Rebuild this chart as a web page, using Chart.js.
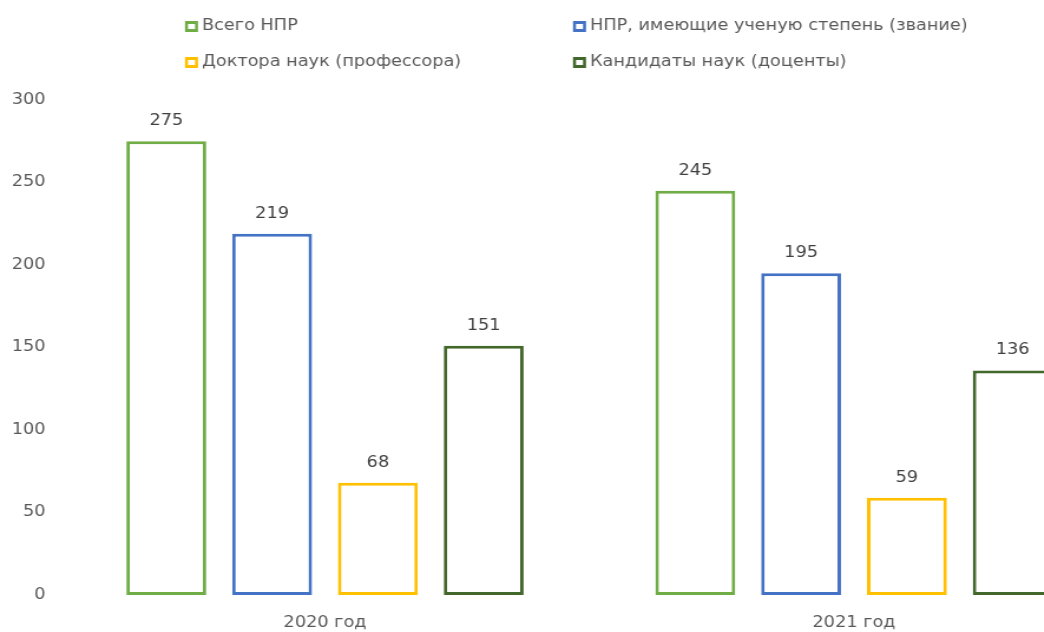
<!DOCTYPE html>
<html>
<head>
<meta charset="utf-8">
<script src="https://cdn.jsdelivr.net/npm/chart.js@4.4.1/dist/chart.umd.min.js"></script>
<style>
  html, body { margin: 0; padding: 0; background: #ffffff; overflow: hidden; }
  #wrap { position: relative; width: 1130px; height: 632px; }
</style>
</head>
<body>
<div id="wrap"><canvas id="c" width="958" height="632" style="display:block;width:1130px;height:632px;"></canvas></div>
<script>
const categories = ['2020 год', '2021 год'];
const seriesNames = [
  'Всего НПР',
  'НПР, имеющие ученую степень (звание)',
  'Доктора наук (профессора)',
  'Кандидаты наук (доценты)'
];
const totalNPR = [275, 245];
const withDegree = [219, 195];
const doctors = [68, 59];
const candidates = [151, 136];
const yTicks = [0, 50, 100, 150, 200, 250, 300];

const colors = ['#70AD47', '#4472C4', '#FFC000', '#43682B'];
const FONT = 'DejaVu Sans';
const S = 1130 / 958; // horizontal stretch applied by CSS

const seriesValues = [totalNPR, withDegree, doctors, candidates];

const valueLabels = {
  id: 'valueLabels',
  afterDatasetsDraw(chart) {
    const ctx = chart.ctx;
    ctx.save();
    ctx.font = '15px "' + FONT + '"';
    ctx.fillStyle = '#404040';
    ctx.textAlign = 'center';
    ctx.textBaseline = 'middle';
    chart.data.datasets.forEach((ds, i) => {
      const meta = chart.getDatasetMeta(i);
      meta.data.forEach((bar, j) => {
        ctx.fillText(String(ds.data[j]), bar.x, bar.y - 20);
      });
    });
    ctx.restore();
  }
};

const legendPos = [
  { x: 185 / S, y: 26.5 },
  { x: 573 / S, y: 26.5 },
  { x: 185 / S, y: 62.5 },
  { x: 573 / S, y: 62.5 }
];
const customLegend = {
  id: 'customLegend',
  afterDraw(chart) {
    const ctx = chart.ctx;
    ctx.save();
    ctx.font = '15px "' + FONT + '"';
    ctx.textBaseline = 'middle';
    ctx.textAlign = 'left';
    const bw = 13 / S;
    const bh = 11;
    const t = 3;
    chart.data.datasets.forEach((ds, i) => {
      const p = legendPos[i];
      ctx.fillStyle = ds.borderColor;
      ctx.fillRect(p.x, p.y - bh / 2, bw, bh);
      ctx.fillStyle = '#ffffff';
      ctx.fillRect(p.x + t / S, p.y - bh / 2 + t, bw - 2 * t / S, bh - 2 * t);
      ctx.fillStyle = '#595959';
      ctx.fillText(ds.label, p.x + 17 / S, p.y);
    });
    ctx.restore();
  }
};

new Chart(document.getElementById('c'), {
  type: 'bar',
  data: {
    labels: categories,
    datasets: seriesNames.map((name, i) => ({
      label: name,
      data: seriesValues[i],
      backgroundColor: '#ffffff',
      borderColor: colors[i],
      borderWidth: 3,
      borderSkipped: false,
      categoryPercentage: 0.8,
      barPercentage: 0.755
    }))
  },
  options: {
    responsive: false,
    animation: false,
    devicePixelRatio: 1,
    layout: { padding: { top: 100, right: 958 - 1118.5 / S, bottom: 0, left: 0 } },
    plugins: {
      legend: { display: false },
      tooltip: { enabled: false }
    },
    scales: {
      x: {
        afterFit(scale) { scale.height = 37; },
        grid: { display: false, drawTicks: false },
        border: { display: false },
        ticks: { color: '#595959', font: { family: FONT, size: 15 }, padding: 19, maxRotation: 0 }
      },
      y: {
        min: 0,
        max: 300,
        afterBuildTicks(scale) { scale.ticks = yTicks.map(v => ({ value: v })); },
        afterFit(scale) { scale.width = 60.5 / S; },
        grid: { display: false, drawTicks: false },
        border: { display: false },
        ticks: { color: '#595959', font: { family: FONT, size: 15 }, padding: 15 / S }
      }
    }
  },
  plugins: [valueLabels, customLegend]
});
</script>
</body>
</html>
